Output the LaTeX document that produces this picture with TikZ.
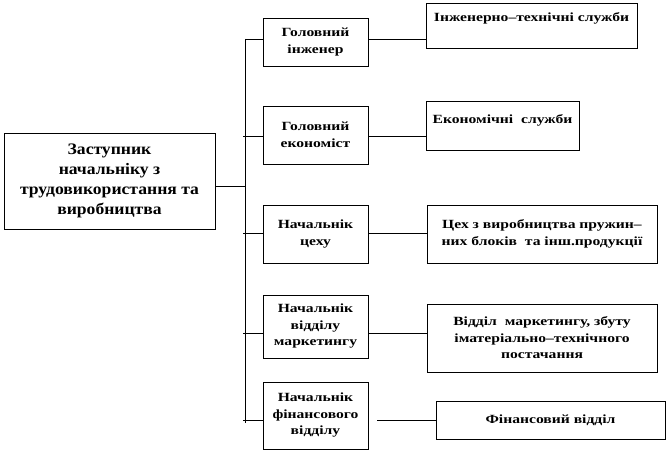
\documentclass[tikz,border=0pt]{standalone}
\usepackage{fontspec}
\setmainfont{Liberation Serif}
\newfontfamily\boxfont[FakeStretch=1.25]{Liberation Serif}
\newfontfamily\bigfont[FakeStretch=1.1]{Liberation Serif}
\usetikzlibrary{positioning}

\begin{document}
\begin{tikzpicture}[x=1pt,y=-1pt,
    box/.style={draw, line width=0.8pt, inner sep=0pt, outer sep=0pt, align=center,
      font=\boxfont\bfseries\fontsize{12.5}{16.5}\selectfont},
    bigbox/.style={box, font=\bigfont\bfseries\fontsize{16}{20}\selectfont},
    link/.style={line width=0.8pt}]
    \useasboundingbox (0,0) rectangle (669,452);

    % Left box
    \node[bigbox, minimum width=211pt, minimum height=96pt] (zast) at (109.5,181)
      {Заступник\\начальніку з\\трудовикористання та\\виробництва};

    % Middle column
    \node[box, minimum width=105pt, minimum height=48pt] (inzh) at (315.5,42) {Головний\\інженер};
    \node[box, minimum width=105pt, minimum height=58pt] (ekon) at (315.5,135) {Головний\\економіст};
    \node[box, minimum width=105pt, minimum height=58pt] (tseh) at (315.5,234) {Начальнік\\цеху};
    \node[box, minimum width=105pt, minimum height=63pt] (mark) at (315.5,326.5) {Начальнік\\відділу\\маркетингу};
    \node[box, minimum width=105pt, minimum height=67pt] (fin) at (315.5,415.5) {Начальнік\\фінансового\\відділу};

    % Right column
    \node[box, minimum width=211pt, text height=19pt, text depth=26pt] (sl1) at (531.5,25.5) {Інженерно–технічні служби};
    \node[box, minimum width=153pt, text height=22pt, text depth=27pt] (sl2) at (502.5,125.5) {Економічні\ \ служби};
    \node[box, minimum width=230pt, minimum height=58pt] (sl3) at (542,234) {Цех з виробництва пружин–\\них блоків\ \ та інш.продукції};
    \node[box, minimum width=230pt, minimum height=68pt] (sl4) at (542,338) {Відділ\ \ маркетингу, збуту\\іматеріально–технічного\\постачання};
    \node[box, minimum width=229pt, minimum height=38pt] (sl5) at (550.5,420) {Фінансовий відділ};

    % Bus
    \coordinate (b1) at (245,39);
    \coordinate (b2) at (245,136);
    \coordinate (b3) at (245,233);
    \coordinate (b4) at (245,333);
    \coordinate (b5) at (245,420);
    \coordinate (bend) at (245,423);
    \draw[link] (b1) -- (bend);
    \draw[link] (zast.east |- 0,186) -- (b1 |- 0,186);
    \draw[link] (b1) -- (inzh.west |- b1);
    \foreach \n/\b in {ekon/b2, tseh/b3, mark/b4, fin/b5}
      \draw[link] ([xshift=-2pt]\b) -- (\n.west |- \b);

    % Links to services
    \draw[link] (inzh.east |- b1) -- (sl1.west |- b1);
    \draw[link] (ekon.east |- b2) -- (sl2.west |- b2);
    \draw[link] (tseh.east |- b3) -- (sl3.west |- b3);
    \draw[link] (mark.east |- b4) -- (sl4.west |- b4);
    \draw[link] ([xshift=9pt]fin.east |- b5) -- (sl5.west |- b5);
\end{tikzpicture}
\end{document}
